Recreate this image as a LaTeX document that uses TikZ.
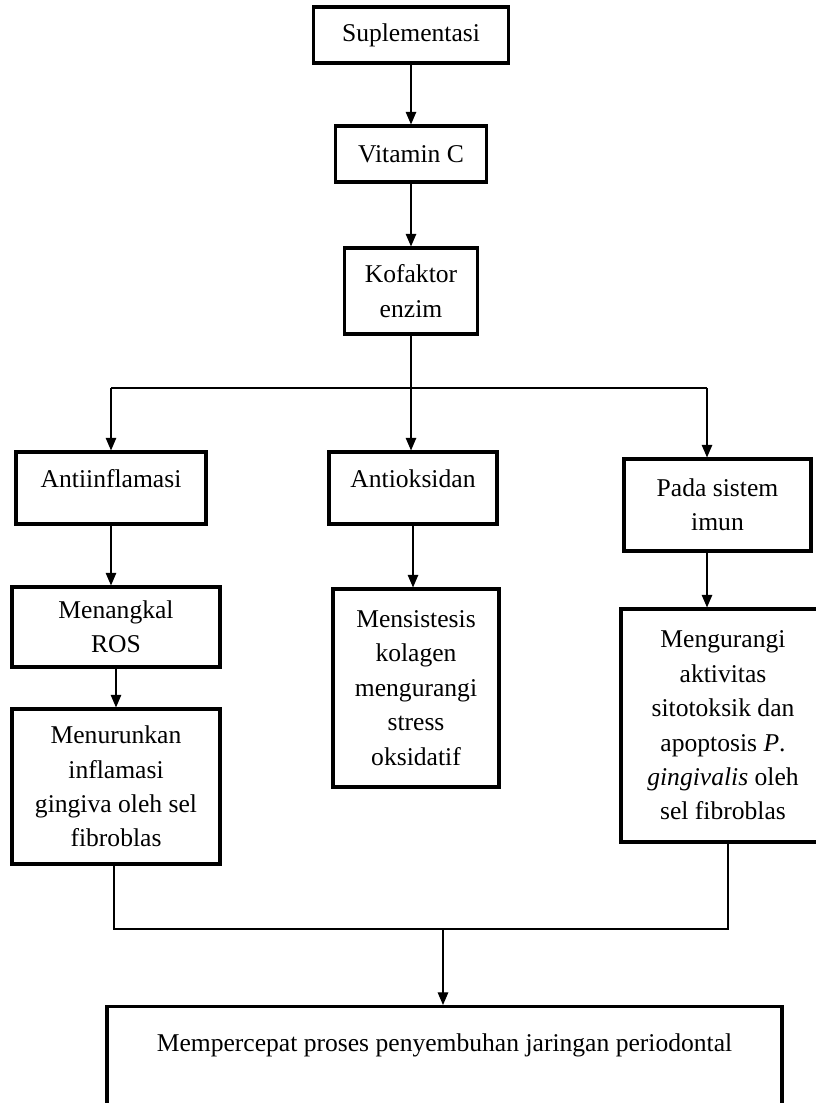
\documentclass[tikz,border=0pt]{standalone}
\usepackage{fontspec}
\setmainfont{Liberation Serif}
\usetikzlibrary{arrows.meta}

\tikzset{
  flowbox/.style={draw,line width=2.2pt,inner sep=0pt,font=\fontsize{18.2}{24.5}\selectfont},
  multibox/.style={flowbox,align=center},
  arrowline/.style={line width=0.9pt,-{Triangle[width=7.5pt,length=9pt]}},
  plainline/.style={line width=0.9pt}
}

\begin{document}
\begin{tikzpicture}
\useasboundingbox (0,0) rectangle (20.375,27.575);

\node[flowbox,minimum width=4.875cm,minimum height=1.4cm] (supl) at (10.275,26.7) {Suplementasi};
\node[flowbox,minimum width=3.775cm,minimum height=1.4cm] (vitc) at (10.275,23.725) {Vitamin C};
\node[multibox,minimum width=3.325cm,minimum height=2.15cm] (kof) at (10.275,20.3) {Kofaktor\\enzim};

\node[flowbox,minimum width=4.75cm,text height=0.9cm,text depth=0.9cm] (anti) at (2.775,15.375) {Antiinflamasi};
\node[flowbox,minimum width=4.2cm,text height=0.9cm,text depth=0.9cm] (aoks) at (10.325,15.375) {Antioksidan};
\node[multibox,minimum width=4.675cm,minimum height=2.3cm] (pada) at (17.9375,14.95) {Pada sistem\\imun};

\node[multibox,minimum width=5.2cm,minimum height=2cm] (ros) at (2.9,11.9) {Menangkal\\ROS};
\node[multibox,minimum width=4.15cm,minimum height=4.95cm] (kol) at (10.4,10.375) {Mensistesis\\kolagen\\mengurangi\\stress\\oksidatif};
\node[multibox,minimum width=5.1cm,minimum height=5.825cm] (meng) at (18.075,9.4375) {Mengurangi\\aktivitas\\sitotoksik dan\\apoptosis \textit{P}.\\\textit{gingivalis} oleh\\sel fibroblas};
\node[multibox,minimum width=5.2cm,minimum height=3.875cm] (turun) at (2.9,7.9125) {Menurunkan\\inflamasi\\gingiva oleh sel\\fibroblas};

\node[flowbox,anchor=north,minimum width=16.875cm,text height=1.125cm,text depth=1.875cm] (hasil) at (11.1125,2.45) {Mempercepat proses penyembuhan jaringan periodontal};

% percabangan
\coordinate (j) at (10.275,17.875);
\coordinate (jl) at (2.775,17.875);
\coordinate (jr) at (17.675,17.875);
\coordinate (ml) at (2.85,4.35);
\coordinate (mr) at (18.2,4.35);
\coordinate (mid) at (11.075,4.35);

\draw[arrowline] (supl) -- (vitc);
\draw[arrowline] (vitc) -- (kof);
\draw[plainline] (kof) -- (j);
\draw[plainline] (jl) -- (jr);
\draw[arrowline] (jl) -- (jl |- anti.north);
\draw[arrowline] (j) -- (j |- aoks.north);
\draw[arrowline] (jr) -- (jr |- pada.north);

\draw[arrowline] (anti.south) -- (anti.south |- ros.north);
\draw[arrowline] (ros) -- (turun);
\draw[arrowline] (aoks.south) -- (aoks.south |- kol.north);
\draw[arrowline] (jr |- pada.south) -- (jr |- meng.north);

\draw[plainline] (turun.south -| ml) -- (ml) -- (mr) -- (meng.south -| mr);
\draw[arrowline] (mid) -- (mid |- hasil.north);
\end{tikzpicture}
\end{document}
